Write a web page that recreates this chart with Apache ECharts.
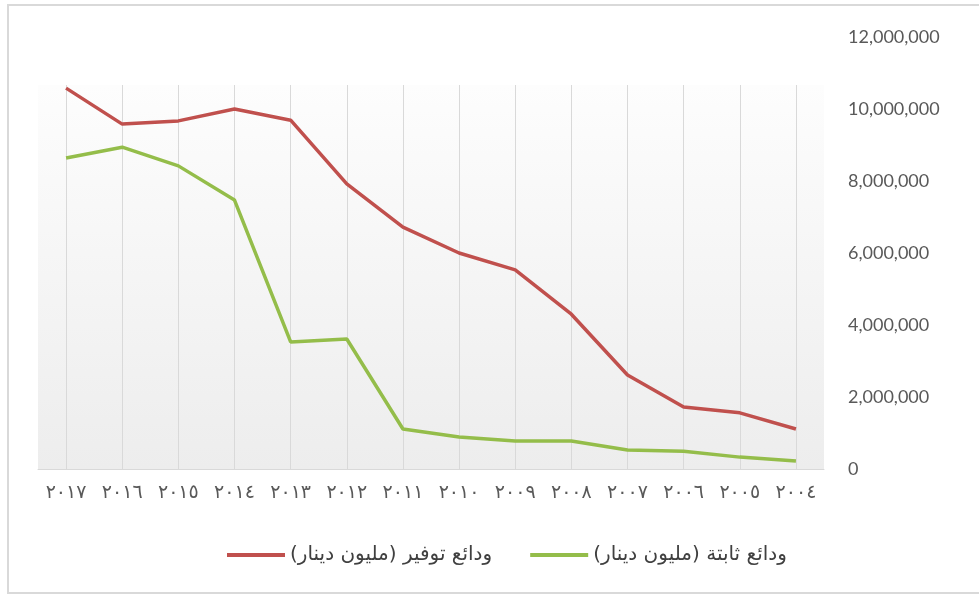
<!DOCTYPE html>
<html lang="ar">
<head>
    <meta charset="utf-8" />
    <title>ودائع</title>
    <script src="https://cdn.jsdelivr.net/npm/echarts@6/dist/echarts.min.js"></script>
    <style>
      html, body { margin: 0; padding: 0; background: #fff; overflow: hidden; }
      #main { width: 979px; height: 595px; }
      .frame {
        position: absolute; left: 7px; top: 4px; width: 990px; height: 586px;
        border: 2px solid #d9d9d9; pointer-events: none;
      }
    </style>
</head>
<body>
    <div id="main"></div>
    <div class="frame"></div>
    <script>
    // سنوات (من اليسار الى اليمين)
    var years = ['٢٠١٧', '٢٠١٦', '٢٠١٥', '٢٠١٤', '٢٠١٣', '٢٠١٢', '٢٠١١', '٢٠١٠', '٢٠٠٩', '٢٠٠٨', '٢٠٠٧', '٢٠٠٦', '٢٠٠٥', '٢٠٠٤'];
    // ودائع توفير
    var savings = [10580000, 9580000, 9670000, 10000000, 9690000, 7920000, 6720000, 6000000, 5530000, 4300000, 2610000, 1720000, 1560000, 1110000];
    // ودائع ثابتة
    var fixedDeposits = [8640000, 8940000, 8420000, 7470000, 3530000, 3610000, 1110000, 890000, 780000, 780000, 530000, 490000, 330000, 220000];
    var seriesNames = ['ودائع توفير (مليون دينار)', 'ودائع ثابتة (مليون دينار)'];
    var yTicks = { min: 0, max: 12000000, step: 2000000 };

    var myChart = echarts.init(document.getElementById('main'));
    var option = {
        backgroundColor: '#fff',
        animation: false,
        grid: [
            // background area with the vertical lines
            {
                left: 38, right: 155, top: 85, bottom: 126,
                show: true,
                borderWidth: 0,
                backgroundColor: new echarts.graphic.LinearGradient(0, 0, 0, 1, [
                    { offset: 0, color: '#fdfdfd' },
                    { offset: 1, color: '#ededed' }
                ])
            },
            // data area
            { left: 38, right: 155, top: 37, bottom: 126 }
        ],
        legend: {
            data: seriesNames,
            top: 540,
            left: 222,
            icon: 'rect',
            itemWidth: 58,
            itemHeight: 4,
            itemGap: 38,
            textStyle: {
                fontFamily: 'DejaVu Sans',
                fontSize: 20,
                color: '#404040'
            },
            formatter: function (name) {
                return name + '\u200F';
            }
        },
        xAxis: [
            {
                type: 'category',
                gridIndex: 0,
                data: years,
                boundaryGap: true,
                axisLine: { lineStyle: { color: '#d9d9d9', width: 1 } },
                axisTick: { show: false },
                splitLine: {
                    show: true,
                    alignWithLabel: true,
                    lineStyle: { color: '#d9d9d9', width: 1 }
                },
                axisLabel: {
                    interval: 0,
                    margin: 15,
                    fontFamily: 'DejaVu Sans',
                    fontSize: 19,
                    color: '#595959'
                }
            },
            {
                type: 'category',
                gridIndex: 1,
                data: years,
                boundaryGap: true,
                show: false
            }
        ],
        yAxis: [
            {
                type: 'value',
                gridIndex: 0,
                show: false,
                min: yTicks.min,
                max: yTicks.max
            },
            {
                type: 'value',
                gridIndex: 1,
                position: 'right',
                min: yTicks.min,
                max: yTicks.max,
                interval: yTicks.step,
                axisLine: { show: false },
                axisTick: { show: false },
                splitLine: { show: false },
                axisLabel: {
                    margin: 24,
                    align: 'left',
                    fontFamily: 'Lato',
                    fontSize: 18,
                    color: '#595959',
                    formatter: function (v) {
                        return v.toLocaleString('en-US');
                    }
                }
            }
        ],
        series: [
            {
                name: seriesNames[0],
                type: 'line',
                xAxisIndex: 1,
                yAxisIndex: 1,
                data: savings,
                symbol: 'none',
                itemStyle: { color: '#c0504d' },
                lineStyle: { color: '#c0504d', width: 3.5 }
            },
            {
                name: seriesNames[1],
                type: 'line',
                xAxisIndex: 1,
                yAxisIndex: 1,
                data: fixedDeposits,
                symbol: 'none',
                itemStyle: { color: '#94bd4a' },
                lineStyle: { color: '#94bd4a', width: 3.5 }
            }
        ]
    };
    myChart.setOption(option);
    </script>
</body>
</html>
